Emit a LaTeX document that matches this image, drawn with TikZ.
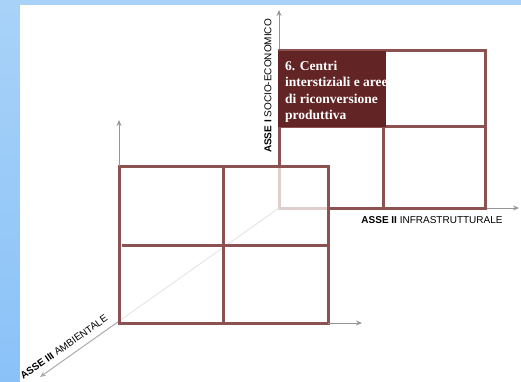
\documentclass[tikz,border=0pt]{standalone}
\usepackage{fontspec}
\setmainfont{Liberation Serif}
\newfontfamily\arialfont{Liberation Sans}
\usetikzlibrary{arrows.meta,positioning,calc}
\definecolor{slideBlue}{RGB}{168,210,248}
\definecolor{slideBlueDeep}{RGB}{138,194,248}
\definecolor{gridBrown}{RGB}{140,82,82}
\definecolor{cellMaroon}{RGB}{98,36,36}
\definecolor{axisGray}{RGB}{150,150,150}

\begin{document}
\begin{tikzpicture}[x=1pt,y=-1pt,
    gridline/.style={draw=gridBrown,line width=3pt},
    axisline/.style={draw=axisGray,line width=1pt,-{Stealth[length=6pt,width=5pt]}},
    axislabel/.style={font=\arialfont\fontsize{10}{12}\selectfont,inner sep=0pt}]
  % slide background
  \fill[slideBlue] (0,0) rectangle (521,381);
  \shade[top color=slideBlue,bottom color=slideBlueDeep] (0,5) rectangle (20,381);
  \fill[white] (20,5) rectangle (521,381);
  \useasboundingbox (0,0) rectangle (521,381);

  % origins and axis ends
  \coordinate (back) at (279,208);
  \coordinate (front) at (119,323);
  \coordinate (backUp) at (279,10);
  \coordinate (backRight) at (519,208);
  \coordinate (frontTop) at (119,166);
  \coordinate (frontUp) at (119,120);
  \coordinate (frontCorner) at (328,323);
  \coordinate (frontRight) at (362,323);
  \coordinate (deep) at (40,377);

  % back axes
  \draw[axisline] (back) -- (backUp);
  \draw[axisline] (back) -- (backRight);

  % back grid
  \draw[gridline] (279,50) rectangle (485,208);
  \draw[gridline] (279,126) -- (485,126);
  \draw[gridline] (383,126) -- (383,208);
  \fill[cellMaroon] (278,51) rectangle (386,127);
  \begin{scope}
    \clip (278,51) rectangle (386,127);
    \node[anchor=north west,inner sep=0pt,align=left,text=white,
      font=\bfseries\fontsize{13.5}{16.3}\selectfont] (cell6) at (285,61)
      {6. Centri\\interstiziali e aree\\di riconversione\\produttiva};
  \end{scope}

  % third axis, behind the front grid
  \draw[axisline,draw=axisGray!80] (back) -- (deep);

  % front grid
  \fill[white,fill opacity=0.72] (119,166) rectangle (328,323);
  \draw[gridline] (119,166) rectangle (328,323);
  \draw[gridline] (122,245) -- (328,245);
  \draw[gridline] (223,166) -- (223,323);
  \draw[axisline] (frontTop) -- (frontUp);
  \draw[axisline] (frontCorner) -- (frontRight);

  % axis labels
  \node[axislabel,rotate=90] (asse1) at (268,86) {\textbf{ASSE I} SOCIO-ECONOMICO};
  \node[axislabel] (asse2) at (432,220) {\textbf{ASSE II} INFRASTRUTTURALE};
  \node[axislabel,rotate=35] (asse3) at (64,347) {\textbf{ASSE III} AMBIENTALE};
\end{tikzpicture}
\end{document}
